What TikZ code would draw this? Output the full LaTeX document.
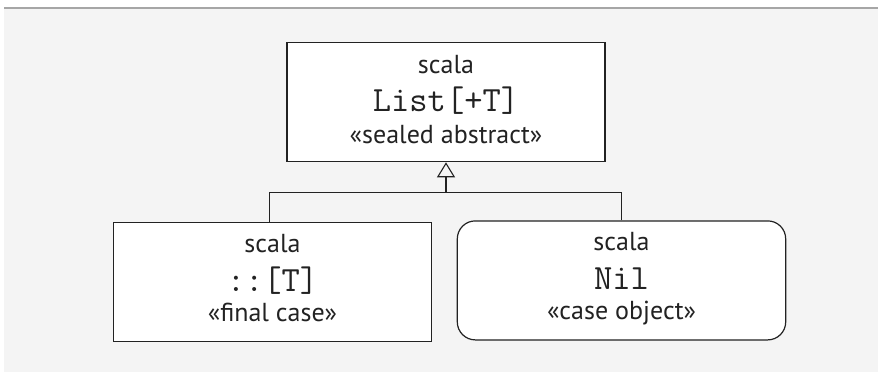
\documentclass[tikz,border=0pt]{standalone}
\usepackage{fontspec}
\setmainfont{PT Sans}
\setmonofont{Latin Modern Mono}
\usetikzlibrary{arrows.meta}
\definecolor{bggray}{HTML}{F4F4F4}
\definecolor{rulegray}{HTML}{A6A6A6}
\definecolor{ink}{HTML}{222222}
\tikzset{
  classbox/.style={draw=ink, fill=white, line width=1.2pt, inner sep=0pt, minimum width=#1, minimum height=119pt},
  pkg/.style={anchor=base, inner sep=0pt, text=ink, font=\fontsize{26}{26}\selectfont},
  cname/.style={anchor=base, inner sep=0pt, text=ink, font=\fontsize{35.5}{35.5}\selectfont\ttfamily},
  stereo/.style={anchor=base, inner sep=0pt, text=ink, font=\fontsize{26}{26}\selectfont},
  conn/.style={draw=ink, line width=1.1pt},
  inherit/.style={conn, -{Triangle[open, length=15pt, width=18pt, line width=1.1pt]}}
}
\begin{document}
\begin{tikzpicture}[x=1pt, y=-1pt]
\useasboundingbox (0,0) rectangle (878,372);
\fill[bggray] (4,8.5) rectangle (878,372);
\draw[rulegray, line width=1.3pt] (4,8) -- (878,8);

\node[classbox=318pt] (top) at (446,102.2) {};
\node[pkg] (toppkg) at (446,73.3) {scala};
\node[cname] (topname) at (446,111) {List[+T]};
\node[stereo] (topst) at (446,143) {«sealed abstract»};

\node[classbox=318.4pt] (left) at (272.5,282) {};
\node[pkg] (leftpkg) at (272.5,252.7) {scala};
\node[cname] (leftname) at (272.5,291.7) {::[T]};
\node[stereo] (leftst) at (272.5,321.7) {«final case»};

\node[classbox=328.4pt, rounded corners=18pt] (right) at (621.5,280.4) {};
\node[pkg] (rightpkg) at (621.5,250.7) {scala};
\node[cname] (rightname) at (621.5,289) {Nil};
\node[stereo] (rightst) at (621.5,319.3) {«case object»};

\coordinate (j) at (top.south |- 0,192.7);
\coordinate (lt) at (269.3,222.3);
\draw[conn] (lt) |- (j);
\draw[conn] (right.north) |- (j);
\draw[inherit] (j) -- (top.south);
\end{tikzpicture}
\end{document}
